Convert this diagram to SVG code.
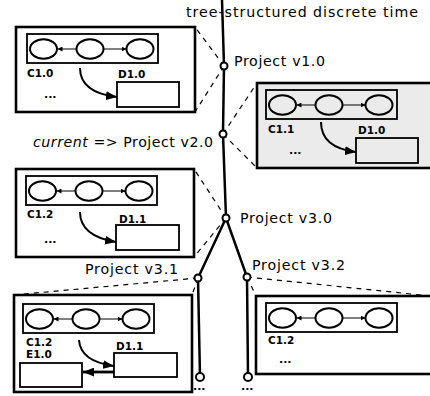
<svg xmlns="http://www.w3.org/2000/svg" width="430" height="396" viewBox="0 0 430 396">
  <style>
    .frame { fill: #ffffff; stroke: #000; stroke-width: 2.6; }
    .frame.grey { fill: #ebebeb; }
    .box { fill: none; stroke: #000; stroke-width: 1.8; }
    .doc { fill: #ffffff; stroke: #000; stroke-width: 1.8; }
    .grey .doc { fill: #ebebeb; }
    .lbl { font-family: "DejaVu Sans", Verdana, sans-serif; font-size: 10.5px; font-weight: bold; fill: #000; }
    .dots { font-family: "DejaVu Sans", Verdana, sans-serif; font-size: 11px; font-weight: bold; fill: #000; }
    .ver { font-family: "DejaVu Sans", Verdana, sans-serif; font-size: 14.2px; fill: #000; }
    .flow { fill: none; stroke: #000; stroke-width: 2; marker-end: url(#bigHead); }
    .time { fill: none; stroke: #000; stroke-width: 2.5; }
    .zoom { fill: none; stroke: #000; stroke-width: 1.2; stroke-dasharray: 5 5; }
    .tick { fill: #fff; stroke: #000; stroke-width: 2; }
  </style>
  <defs>
    <marker id="smallHead" viewBox="0 0 6 6" refX="6" refY="3" markerWidth="5" markerHeight="5" markerUnits="userSpaceOnUse" orient="auto">
      <path d="M0,0 L6,3 L0,6 Z" fill="#000"/>
    </marker>
    <marker id="bigHead" viewBox="0 0 10 8" refX="10" refY="4" markerWidth="11" markerHeight="9" markerUnits="userSpaceOnUse" orient="auto">
      <path d="M0,0 L10,4 L0,8 Z" fill="#000"/>
    </marker>
    <!-- chain of three versions inside a snapshot -->
    <g id="chain">
      <rect class="box" x="0" y="0" width="131" height="29"/>
      <ellipse cx="16.5" cy="15" rx="13.5" ry="9.8" fill="none" stroke="#000" stroke-width="2"/>
      <ellipse cx="63" cy="15" rx="13.5" ry="9.8" fill="none" stroke="#000" stroke-width="2"/>
      <ellipse cx="113" cy="15" rx="13.5" ry="9.8" fill="none" stroke="#000" stroke-width="2"/>
      <line x1="49.5" y1="15" x2="30.5" y2="15" stroke="#000" stroke-width="1" marker-end="url(#smallHead)"/>
      <line x1="76.5" y1="15" x2="99.5" y2="15" stroke="#000" stroke-width="1" marker-end="url(#smallHead)"/>
    </g>
  </defs>

  <!-- timeline and zoom guides -->
  <g id="connectors">
    <line class="zoom" x1="224" y1="66" x2="195" y2="27"/>
    <line class="zoom" x1="224" y1="66" x2="195" y2="112"/>
    <line class="zoom" x1="223" y1="134" x2="257" y2="83"/>
    <line class="zoom" x1="223" y1="134" x2="257" y2="168"/>
    <line class="zoom" x1="226" y1="218" x2="194" y2="169"/>
    <line class="zoom" x1="226" y1="218" x2="194" y2="257"/>
    <line class="zoom" x1="198" y1="278" x2="14" y2="295"/>
    <line class="zoom" x1="198" y1="278" x2="192" y2="295"/>
    <line class="zoom" x1="247" y1="277" x2="256" y2="296"/>
    <line class="zoom" x1="247" y1="277" x2="440" y2="297"/>

    <path class="time" d="M222,0 L224,66 L223,134 L226,218 L198,278 L200,377"/>
    <path class="time" d="M226,218 L247,277 L248,377"/>
  </g>

  <text class="ver" x="186" y="17" textLength="232" lengthAdjust="spacing">tree-structured discrete time</text>

  <!-- version points -->
  <g id="v1-0">
    <circle class="tick" cx="224" cy="66" r="3.5"/>
    <text class="ver" x="234" y="66" textLength="91" lengthAdjust="spacing">Project v1.0</text>
  </g>
  <g id="v2-0">
    <circle class="tick" cx="223" cy="134" r="3.5"/>
    <text class="ver" x="33" y="147" textLength="180" lengthAdjust="spacing"><tspan font-style="italic">current</tspan> =&gt; Project v2.0</text>
  </g>
  <g id="v3-0">
    <circle class="tick" cx="226" cy="218" r="3.5"/>
    <text class="ver" x="240" y="223" textLength="92" lengthAdjust="spacing">Project v3.0</text>
  </g>
  <g id="v3-1">
    <circle class="tick" cx="198" cy="278" r="3.5"/>
    <text class="ver" x="85" y="274" textLength="93" lengthAdjust="spacing">Project v3.1</text>
  </g>
  <g id="v3-2">
    <circle class="tick" cx="247" cy="277" r="3.5"/>
    <text class="ver" x="252" y="270" textLength="93" lengthAdjust="spacing">Project v3.2</text>
  </g>
  <g id="end-left">
    <circle class="tick" cx="200" cy="377" r="4"/>
    <text class="dots" x="193" y="390">...</text>
  </g>
  <g id="end-right">
    <circle class="tick" cx="248" cy="377" r="4"/>
    <text class="dots" x="241" y="390">...</text>
  </g>

  <!-- snapshot of v1.0 -->
  <g id="snap-v1-0">
    <rect class="frame" x="16" y="27" width="179" height="85"/>
    <use href="#chain" x="27" y="34"/>
    <text class="lbl" x="27" y="77">C1.0</text>
    <text class="lbl" x="118" y="78">D1.0</text>
    <rect class="doc" x="117" y="82" width="62" height="25"/>
    <text class="dots" x="44" y="98">...</text>
    <path class="flow" d="M80,68 C80,84 92,94 117,97"/>
  </g>

  <!-- snapshot of v2.0 (current) -->
  <g id="snap-v2-0" class="grey">
    <rect class="frame grey" x="257" y="83" width="190" height="85"/>
    <use href="#chain" x="266" y="90"/>
    <text class="lbl" x="268" y="133">C1.1</text>
    <text class="lbl" x="358" y="134">D1.0</text>
    <rect class="doc" x="356" y="138" width="62" height="25"/>
    <text class="dots" x="289" y="154">...</text>
    <path class="flow" d="M321,122 C321,138 332,149 356,152"/>
  </g>

  <!-- snapshot of v3.0 -->
  <g id="snap-v3-0">
    <rect class="frame" x="16" y="169" width="178" height="88"/>
    <use href="#chain" x="26" y="176"/>
    <text class="lbl" x="27" y="218">C1.2</text>
    <text class="lbl" x="119" y="223">D1.1</text>
    <rect class="doc" x="116" y="225" width="63" height="25"/>
    <text class="dots" x="44" y="243">...</text>
    <path class="flow" d="M80,212 C80,228 92,238 116,242"/>
  </g>

  <!-- snapshot of v3.1 -->
  <g id="snap-v3-1">
    <rect class="frame" x="14" y="295" width="178" height="97"/>
    <use href="#chain" x="23" y="304"/>
    <text class="lbl" x="26" y="346">C1.2</text>
    <text class="lbl" x="26" y="358">E1.0</text>
    <text class="lbl" x="116" y="350">D1.1</text>
    <rect class="doc" x="114" y="353" width="63" height="24"/>
    <rect class="doc" x="20" y="363" width="62" height="24"/>
    <path class="flow" d="M79,340 C80,355 92,363 114,366"/>
    <line x1="114" y1="372" x2="83" y2="372" stroke="#000" stroke-width="2.8" marker-end="url(#bigHead)"/>
  </g>

  <!-- snapshot of v3.2 -->
  <g id="snap-v3-2">
    <rect class="frame" x="256" y="296" width="190" height="78"/>
    <use href="#chain" x="266" y="303"/>
    <text class="lbl" x="268" y="344">C1.2</text>
    <text class="dots" x="279" y="363">...</text>
  </g>
</svg>
